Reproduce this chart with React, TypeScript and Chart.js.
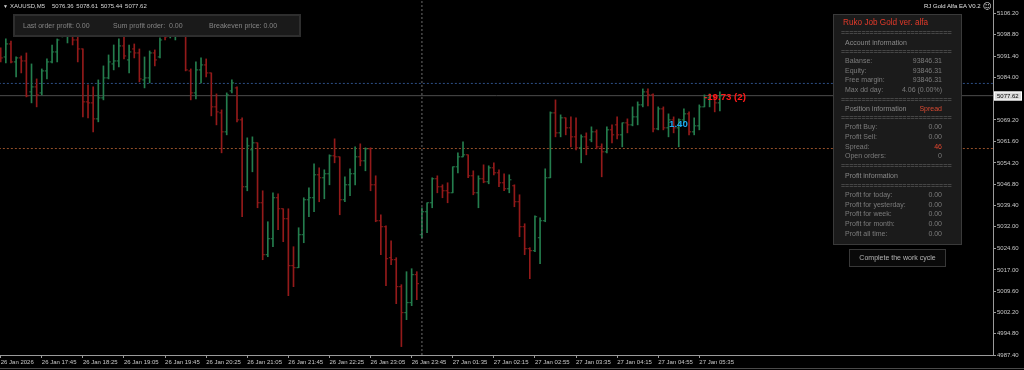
import React, { useEffect, useRef } from "react";
import { Chart, registerables } from "chart.js";

Chart.register(...registerables);

// ---- data (XAUUSD M5 bars) ----
const timeLabels = [
  "26 Jan 2026", "26 Jan 17:45", "26 Jan 18:25", "26 Jan 19:05", "26 Jan 19:45", "26 Jan 20:25",
  "26 Jan 21:05", "26 Jan 21:45", "26 Jan 22:25", "26 Jan 23:05", "26 Jan 23:45", "27 Jan 01:35",
  "27 Jan 02:15", "27 Jan 02:55", "27 Jan 03:35", "27 Jan 04:15", "27 Jan 04:55", "27 Jan 05:35",
];
const labelEveryBars = 8;

const priceTicks = [
  5106.2, 5098.8, 5091.4, 5084.0, 5069.2, 5061.6, 5054.2, 5046.8, 5039.4, 5032.0, 5024.6, 5017.0,
  5009.6, 5002.2, 4994.8, 4987.4,
];

const opens = [
  5093.53, 5091.09, 5095.61, 5089.36, 5090.75, 5089.70, 5078.93, 5080.67, 5078.58, 5086.23,
  5089.36, 5092.83, 5098.39, 5098.39, 5101.52, 5097.00, 5093.87, 5075.46, 5075.11, 5069.55,
  5076.85, 5083.80, 5088.66, 5089.70, 5094.92, 5090.05, 5093.87, 5092.48, 5083.10, 5083.80,
  5092.48, 5091.09, 5100.48, 5098.39, 5098.39, 5101.17, 5099.43, 5086.23, 5078.58, 5086.58,
  5088.31, 5085.53, 5073.72, 5071.63, 5065.03, 5079.28, 5080.32, 5069.20, 5045.92, 5058.78,
  5061.21, 5040.36, 5022.29, 5027.85, 5042.10, 5038.27, 5034.80, 5018.47, 5017.77, 5029.24,
  5041.40, 5042.10, 5050.09, 5049.05, 5050.44, 5056.69, 5056.34, 5041.40, 5046.61, 5050.44,
  5056.34, 5054.95, 5059.12, 5046.61, 5034.10, 5032.02, 5021.25, 5020.55, 5011.17, 5002.13,
  5005.61, 5015.34, 5029.24, 5037.23, 5040.36, 5048.70, 5045.92, 5044.53, 5043.83, 5052.87,
  5056.34, 5057.04, 5049.74, 5043.83, 5048.70, 5047.66, 5052.52, 5050.78, 5047.31, 5045.22,
  5046.27, 5040.71, 5032.02, 5024.37, 5023.68, 5028.20, 5034.10, 5049.05, 5071.63, 5064.68,
  5069.90, 5066.42, 5063.29, 5059.47, 5063.29, 5062.25, 5065.03, 5059.82, 5058.08, 5065.73,
  5067.46, 5063.99, 5068.16, 5067.46, 5070.24, 5074.41, 5078.93, 5077.89, 5066.07, 5073.02,
  5066.42, 5069.20, 5066.42, 5069.20, 5071.29, 5065.03, 5067.12, 5073.72, 5076.85, 5077.54,
  5075.11,
];
const highs = [
  5094.22, 5097.35, 5096.65, 5091.09, 5091.44, 5092.48, 5088.66, 5083.45, 5086.92, 5090.40,
  5095.26, 5097.35, 5103.26, 5102.56, 5102.21, 5100.48, 5093.87, 5081.36, 5080.67, 5083.10,
  5087.97, 5091.79, 5095.26, 5097.35, 5099.78, 5095.26, 5095.61, 5093.87, 5091.09, 5093.18,
  5093.53, 5097.70, 5101.87, 5103.26, 5102.21, 5102.56, 5100.48, 5086.92, 5089.36, 5090.75,
  5090.40, 5085.53, 5078.24, 5072.68, 5078.58, 5083.10, 5080.67, 5069.90, 5062.95, 5063.29,
  5061.21, 5044.53, 5033.76, 5043.83, 5043.49, 5038.27, 5038.27, 5025.07, 5031.67, 5042.10,
  5045.57, 5053.91, 5052.52, 5051.83, 5057.04, 5062.60, 5056.34, 5049.39, 5052.17, 5059.82,
  5060.86, 5059.47, 5059.47, 5049.74, 5036.19, 5032.37, 5027.15, 5021.25, 5011.86, 5016.38,
  5017.42, 5016.38, 5038.62, 5040.36, 5049.05, 5049.74, 5046.61, 5047.31, 5052.87, 5057.73,
  5061.56, 5057.04, 5051.48, 5049.74, 5053.56, 5053.22, 5054.26, 5051.83, 5050.44, 5050.09,
  5046.61, 5043.14, 5033.06, 5024.72, 5035.84, 5035.15, 5052.17, 5071.98, 5076.15, 5070.94,
  5069.90, 5070.24, 5069.90, 5063.99, 5064.68, 5066.77, 5065.73, 5060.86, 5066.77, 5067.46,
  5070.24, 5068.16, 5069.55, 5073.72, 5075.46, 5079.97, 5079.97, 5078.24, 5073.72, 5073.72,
  5071.29, 5070.24, 5069.55, 5073.02, 5071.98, 5069.90, 5074.41, 5077.89, 5078.24, 5077.89,
  5078.93,
];
const lows = [
  5089.36, 5089.01, 5089.01, 5084.14, 5085.53, 5077.19, 5075.11, 5073.72, 5077.89, 5083.45,
  5089.01, 5089.36, 5098.04, 5095.96, 5095.26, 5089.36, 5070.24, 5069.90, 5065.03, 5068.51,
  5076.15, 5083.45, 5086.58, 5087.62, 5090.40, 5085.53, 5090.75, 5082.41, 5080.32, 5082.06,
  5087.97, 5090.75, 5097.00, 5097.70, 5097.00, 5098.39, 5086.23, 5076.15, 5076.50, 5082.06,
  5084.14, 5070.59, 5067.46, 5057.73, 5063.99, 5078.58, 5068.51, 5035.49, 5044.53, 5051.13,
  5038.62, 5020.55, 5021.59, 5025.07, 5030.98, 5026.81, 5008.04, 5011.17, 5017.77, 5026.46,
  5035.49, 5037.23, 5040.71, 5041.75, 5046.61, 5054.26, 5036.19, 5040.71, 5042.79, 5046.61,
  5053.22, 5051.48, 5044.53, 5033.76, 5022.29, 5011.52, 5018.81, 5005.26, 4990.32, 4999.70,
  5004.57, 5006.65, 5028.20, 5029.93, 5038.62, 5043.83, 5042.10, 5040.36, 5043.83, 5050.78,
  5056.34, 5049.05, 5043.14, 5038.62, 5047.31, 5046.96, 5050.09, 5045.92, 5044.53, 5043.83,
  5038.97, 5028.54, 5022.29, 5013.95, 5023.33, 5019.16, 5033.76, 5049.05, 5063.29, 5063.29,
  5063.99, 5059.82, 5058.78, 5054.26, 5057.04, 5061.56, 5059.12, 5049.39, 5057.73, 5061.21,
  5062.60, 5059.82, 5064.68, 5067.12, 5067.46, 5073.72, 5074.07, 5065.03, 5065.73, 5065.73,
  5063.29, 5064.68, 5059.82, 5068.16, 5063.99, 5063.99, 5065.73, 5073.72, 5073.72, 5071.98,
  5072.33,
];
const closes = [
  5090.75, 5095.61, 5089.36, 5090.75, 5089.70, 5077.54, 5080.67, 5077.89, 5086.23, 5089.36,
  5092.83, 5097.00, 5101.87, 5101.52, 5097.00, 5093.87, 5075.46, 5075.11, 5069.55, 5076.85,
  5083.80, 5089.36, 5089.70, 5094.92, 5091.44, 5092.83, 5092.48, 5083.45, 5083.80, 5092.48,
  5090.05, 5097.00, 5098.04, 5101.52, 5101.17, 5099.43, 5086.58, 5078.58, 5086.58, 5088.31,
  5085.53, 5073.72, 5071.98, 5065.03, 5077.89, 5082.06, 5069.20, 5045.92, 5060.17, 5061.21,
  5040.36, 5022.29, 5027.85, 5042.10, 5038.27, 5034.80, 5018.47, 5017.77, 5029.24, 5041.40,
  5042.10, 5050.09, 5049.05, 5050.44, 5056.69, 5056.34, 5041.40, 5046.61, 5050.44, 5056.34,
  5054.95, 5059.12, 5046.61, 5034.10, 5032.02, 5020.90, 5020.55, 5011.17, 5002.13, 5005.61,
  5015.34, 5012.21, 5037.23, 5040.36, 5048.70, 5045.92, 5044.53, 5043.83, 5052.87, 5056.34,
  5057.04, 5049.74, 5043.83, 5048.70, 5047.66, 5052.52, 5050.78, 5047.31, 5045.22, 5048.35,
  5040.71, 5032.02, 5024.37, 5023.68, 5035.49, 5034.10, 5049.05, 5071.63, 5064.68, 5069.90,
  5066.42, 5063.29, 5059.47, 5063.29, 5059.82, 5065.03, 5059.82, 5058.08, 5065.73, 5063.99,
  5063.99, 5068.16, 5067.46, 5070.24, 5074.41, 5078.93, 5077.89, 5066.07, 5073.02, 5066.42,
  5069.20, 5066.42, 5069.20, 5071.29, 5065.03, 5067.12, 5073.72, 5076.85, 5077.54, 5075.11,
  5077.62,
];

const bidPrice = 5077.62;
const blueLevel = 5081.88;
const orangeLevel = 5059.23;
const daySeparatorBar = 82;

const annotationTexts = ["-19.73 (2)", "1.40"];
const annotationBars = [136.9, 130.1];
const annotationPrices = [5077.2, 5067.8];
const annotationColors = ["#ff1a1a", "#1ea8f0"];

const headerSymbol = "XAUUSD,M5";
const headerOHLC = "5076.36 5078.61 5075.44 5077.62";
const topPanelTexts = ["Last order profit: 0.00", "Sum profit order:  0.00", "Breakeven price: 0.00"];

const accountRows = [
  ["Balanse:", "93846.31"],
  ["Equity:", "93846.31"],
  ["Free margin:", "93846.31"],
  ["Max dd day:", "4.06 (0.00%)"],
];
const positionRows = [
  ["Profit Buy:", "0.00"],
  ["Profit Sell:", "0.00"],
  ["Spread:", "46"],
  ["Open orders:", "0"],
];
const profitRows = [
  ["Profit for today:", "0.00"],
  ["Profit for yesterday:", "0.00"],
  ["Profit for week:", "0.00"],
  ["Profit for month:", "0.00"],
  ["Profit all time:", "0.00"],
];

const FONT = "'Liberation Sans', Arial, sans-serif";

export default function App() {
  const canvasRef = useRef<HTMLCanvasElement | null>(null);

  useEffect(() => {
    const canvas = canvasRef.current;
    if (!canvas) return;
    const up = "#247d4d";
    const down = "#931a1a";
    const colors = closes.map((c, i) => (c >= opens[i] ? up : down));
    const xMin = -0.136;
    const xMax = 193.17;
    const yMin = 4987.4;
    const yMax = 5110.9;

    const overlay = {
      id: "overlay",
      afterDatasetsDraw(chart: any) {
        const { ctx, scales } = chart;
        ctx.save();
        ctx.font = `bold 9.7px ${FONT}`;
        ctx.textBaseline = "middle";
        ctx.textAlign = "left";
        annotationTexts.forEach((t, i) => {
          ctx.fillStyle = annotationColors[i];
          ctx.fillText(t, scales.x.getPixelForValue(annotationBars[i]), scales.y.getPixelForValue(annotationPrices[i]));
        });
        ctx.restore();
      },
      afterDraw(chart: any) {
        const { ctx, scales, chartArea } = chart;
        const py = Math.round(scales.y.getPixelForValue(bidPrice));
        ctx.save();
        ctx.fillStyle = "#dcdcdc";
        ctx.fillRect(chartArea.right + 1, py - 4.5, 28, 9);
        ctx.strokeStyle = "#ffffff";
        ctx.lineWidth = 1;
        ctx.strokeRect(chartArea.right + 1.5, py - 4, 27, 8);
        ctx.fillStyle = "#000000";
        ctx.font = `6px ${FONT}`;
        ctx.textBaseline = "middle";
        ctx.fillText(bidPrice.toFixed(2), chartArea.right + 4, py + 0.5);
        ctx.restore();
      },
    };

    const hLine = (price: number, color: string, dash: number[]) => ({
      type: "line" as const,
      data: [
        { x: xMin - 1, y: price },
        { x: xMax + 1, y: price },
      ],
      borderColor: color,
      borderWidth: 1,
      borderDash: dash,
      pointRadius: 0,
      order: 5,
    });

    const chart = new Chart(canvas, {
      type: "bar",
      data: {
        datasets: [
          {
            type: "line",
            data: [
              { x: daySeparatorBar, y: yMin },
              { x: daySeparatorBar, y: yMax },
            ],
            borderColor: "#6c6c6c",
            borderWidth: 1,
            borderDash: [2, 2],
            pointRadius: 0,
            order: 0,
          } as any,
          {
            type: "line",
            data: opens.map((o, i) => ({ x: i, y: o })),
            showLine: false,
            pointStyle: "dash",
            pointRotation: 180,
            pointRadius: 2.2,
            pointBorderWidth: 1,
            pointBorderColor: colors,
            pointBackgroundColor: colors,
            order: 1,
          } as any,
          {
            type: "line",
            data: closes.map((c, i) => ({ x: i, y: c })),
            showLine: false,
            pointStyle: "dash",
            pointRotation: 0,
            pointRadius: 2.2,
            pointBorderWidth: 1,
            pointBorderColor: colors,
            pointBackgroundColor: colors,
            order: 1,
          } as any,
          {
            type: "bar",
            data: highs.map((h, i) => ({ x: i, y: [lows[i], h] })),
            backgroundColor: colors,
            borderWidth: 0,
            barThickness: 1,
            grouped: false,
            order: 2,
          } as any,
          hLine(bidPrice, "#4c4c4c", []) as any,
          hLine(blueLevel, "#2d4f86", [2, 2]) as any,
          hLine(orangeLevel, "#94502a", [2, 2]) as any,
        ],
      },
      options: {
        animation: false,
        responsive: false,
        devicePixelRatio: 1,
        events: [],
        layout: { padding: 0, autoPadding: false },
        plugins: { legend: { display: false }, tooltip: { enabled: false } },
        scales: {
          x: {
            type: "linear",
            min: xMin,
            max: xMax,
            bounds: "data",
            offset: false,
            position: "bottom",
            afterBuildTicks: (s: any) => {
              s.ticks = timeLabels.map((_, k) => ({ value: k * labelEveryBars }));
            },
            ticks: {
              autoSkip: false,
              maxRotation: 0,
              minRotation: 0,
              align: "start",
              padding: 1,
              color: "#c8c8c8",
              font: { family: FONT, size: 6 },
              callback: (_v: any, idx: number) => timeLabels[idx] ?? "",
            },
            grid: { drawOnChartArea: false, drawTicks: true, tickLength: 3, color: "#9a9a9a", offset: false },
            border: { display: true, color: "#9a9a9a", width: 1 },
            afterFit: (s: any) => {
              s.height = 15;
              s.paddingLeft = 0;
              s.paddingRight = 0;
            },
          } as any,
          y: {
            type: "linear",
            position: "right",
            min: yMin,
            max: yMax,
            bounds: "data",
            afterBuildTicks: (s: any) => {
              s.ticks = priceTicks.map((v) => ({ value: v }));
            },
            ticks: {
              autoSkip: false,
              padding: 1,
              color: "#c8c8c8",
              font: { family: FONT, size: 6 },
              callback: (v: any) => Number(v).toFixed(2),
            },
            grid: { drawOnChartArea: false, drawTicks: true, tickLength: 3, color: "#9a9a9a" },
            border: { display: true, color: "#9a9a9a", width: 1 },
            afterFit: (s: any) => {
              s.width = 31;
              s.paddingTop = 0;
              s.paddingBottom = 0;
            },
          } as any,
        },
      },
      plugins: [overlay],
    });

    return () => chart.destroy();
  }, []);

  const txt = (extra: React.CSSProperties): React.CSSProperties => ({
    position: "absolute",
    whiteSpace: "nowrap",
    fontFamily: FONT,
    lineHeight: "10px",
    ...extra,
  });

  const sep = (top: number) => (
    <div
      key={"s" + top}
      style={txt({ left: 841, top: top - 5, width: 111, overflow: "hidden", fontSize: 7, color: "#6e6e6e", letterSpacing: "0px" })}
    >
      {"=".repeat(40)}
    </div>
  );

  const row = (label: string, value: string, yc: number, valueColor = "#7c7c7c") => (
    <React.Fragment key={label + yc}>
      <div style={txt({ left: 845, top: yc - 5, fontSize: 7, color: "#7c7c7c" })}>{label}</div>
      <div style={txt({ left: 842, width: 100, textAlign: "right", top: yc - 5, fontSize: 7, color: valueColor })}>{value}</div>
    </React.Fragment>
  );

  return (
    <div style={{ position: "fixed", left: 0, top: 0, width: 1024, height: 370, background: "#000", overflow: "hidden" }}>
      <canvas ref={canvasRef} width={1024} height={370} style={{ display: "block", width: 1024, height: 370 }} />

      {/* header */}
      <div style={txt({ left: 3, top: 1, fontSize: 5, color: "#d8d8d8" })}>▼</div>
      <div style={txt({ left: 10, top: 1, fontSize: 6, color: "#d8d8d8" })}>{headerSymbol}</div>
      <div style={txt({ left: 52, top: 1, fontSize: 6, color: "#d8d8d8", wordSpacing: "1px" })}>{headerOHLC}</div>

      {/* top-left info panel */}
      <div style={{ position: "absolute", left: 13, top: 14, width: 288, height: 23, boxSizing: "border-box", background: "#1a1a1a", border: "2px solid #2e2e2e" }} />
      <div style={txt({ left: 23, top: 20.5, fontSize: 7, color: "#858585" })}>{topPanelTexts[0]}</div>
      <div style={txt({ left: 113, top: 20.5, fontSize: 7, color: "#858585", whiteSpace: "pre" })}>{topPanelTexts[1]}</div>
      <div style={txt({ left: 209, top: 20.5, fontSize: 7, color: "#858585" })}>{topPanelTexts[2]}</div>

      {/* EA name */}
      <div style={txt({ left: 924, top: 1, fontSize: 6, color: "#e0e0e0" })}>RJ Gold Alfa EA V0.2</div>
      <div style={txt({ left: 983, top: 0.5, fontSize: 8.5, color: "#e0e0e0", fontFamily: "'DejaVu Sans'" })}>☺</div>

      {/* right info panel */}
      <div style={{ position: "absolute", left: 833, top: 14, width: 129, height: 231, boxSizing: "border-box", background: "#1b1b1b", border: "1px solid #3a3a3a" }} />
      <div style={txt({ left: 843, top: 18, fontSize: 8.2, color: "#e23a2a" })}>Ruko Job Gold ver. alfa</div>
      {sep(33.3)}
      <div style={txt({ left: 845, top: 38, fontSize: 7, color: "#8a8a8a" })}>Account information</div>
      {sep(52.3)}
      {accountRows.map((r, i) => row(r[0], r[1], 61 + i * 9.7))}
      {sep(100)}
      <div style={txt({ left: 845, top: 104, fontSize: 7, color: "#8a8a8a" })}>Position information</div>
      <div style={txt({ left: 842, width: 100, textAlign: "right", top: 104, fontSize: 7, color: "#d84a32" })}>Spread</div>
      {sep(118.3)}
      {positionRows.map((r, i) => row(r[0], r[1], 127.3 + i * 9.7, r[0] === "Spread:" ? "#e0452e" : "#7c7c7c"))}
      {sep(166)}
      <div style={txt({ left: 845, top: 170.7, fontSize: 7, color: "#8a8a8a" })}>Profit information</div>
      {sep(185.7)}
      {profitRows.map((r, i) => row(r[0], r[1], 195 + i * 9.7))}

      {/* button */}
      <div style={{ position: "absolute", left: 849, top: 249, width: 97, height: 18, boxSizing: "border-box", background: "#0a0a0a", border: "1px solid #383838" }} />
      <div style={txt({ left: 849, top: 253, width: 97, textAlign: "center", fontSize: 7, color: "#b4b4b4" })}>Complete the work cycle</div>

      {/* bottom frame line */}
      <div style={{ position: "absolute", left: 0, top: 368, width: 1024, height: 1, background: "#4a4a4a" }} />
    </div>
  );
}
